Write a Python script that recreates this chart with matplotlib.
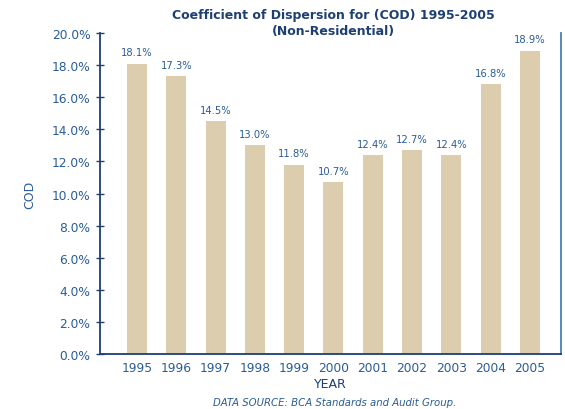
import matplotlib.pyplot as plt
from matplotlib.ticker import FuncFormatter

years = ["1995", "1996", "1997", "1998", "1999", "2000", "2001", "2002", "2003", "2004", "2005"]
cod = [18.1, 17.3, 14.5, 13.0, 11.8, 10.7, 12.4, 12.7, 12.4, 16.8, 18.9]
yticks = [0, 2, 4, 6, 8, 10, 12, 14, 16, 18, 20]

bar_color = "#DCCDAF"
navy = "#1E3F72"
text_blue = "#2A5C98"

plt.rcParams['font.family'] = ['DejaVu Sans']

fig = plt.figure(figsize=(5.65, 4.1), dpi=100)
ax = fig.add_axes([0.177, 0.134, 0.816, 0.783])

x = list(range(len(years)))
ax.bar(x, cod, width=0.51, color=bar_color, zorder=2)
for xi, v in zip(x, cod):
    ax.text(xi, v + 0.4, f"{v:.1f}%", ha="center", va="bottom",
            fontsize=7.2, color=text_blue)

ax.set_xlim(-0.94, 10.79)
ax.set_ylim(0, 20)
ax.set_xticks(x)
ax.set_xticklabels(years)
ax.set_yticks(yticks)
ax.yaxis.set_major_formatter(FuncFormatter(lambda v, p: f"{v:.1f}%"))

ax.tick_params(axis="x", length=0, pad=5, labelsize=8.8, labelcolor=text_blue)
ax.tick_params(axis="y", direction="inout", length=6, width=1, color=navy,
               labelsize=8.8, labelcolor=text_blue, pad=4)

ax.spines["top"].set_visible(False)
ax.spines["left"].set_color(navy)
ax.spines["bottom"].set_color(navy)
ax.spines["right"].set_color("#4A7EB5")
for s in ["left", "bottom", "right"]:
    ax.spines[s].set_linewidth(1.3)

ax.set_ylabel("COD", fontsize=9, color=text_blue, labelpad=11)
ax.set_xlabel("YEAR", fontsize=9, color=navy, labelpad=2)

fig.text(0.59, 0.963, "Coefficient of Dispersion for (COD) 1995-2005",
         ha="center", va="center", fontsize=9, fontweight="bold", color=navy)
fig.text(0.59, 0.922, "(Non-Residential)",
         ha="center", va="center", fontsize=9, fontweight="bold", color=navy)
fig.text(0.593, 0.017, "DATA SOURCE: BCA Standards and Audit Group.",
         ha="center", va="center", fontsize=7.3, style="italic", color=text_blue)

fig.savefig("out.png", dpi=100)
